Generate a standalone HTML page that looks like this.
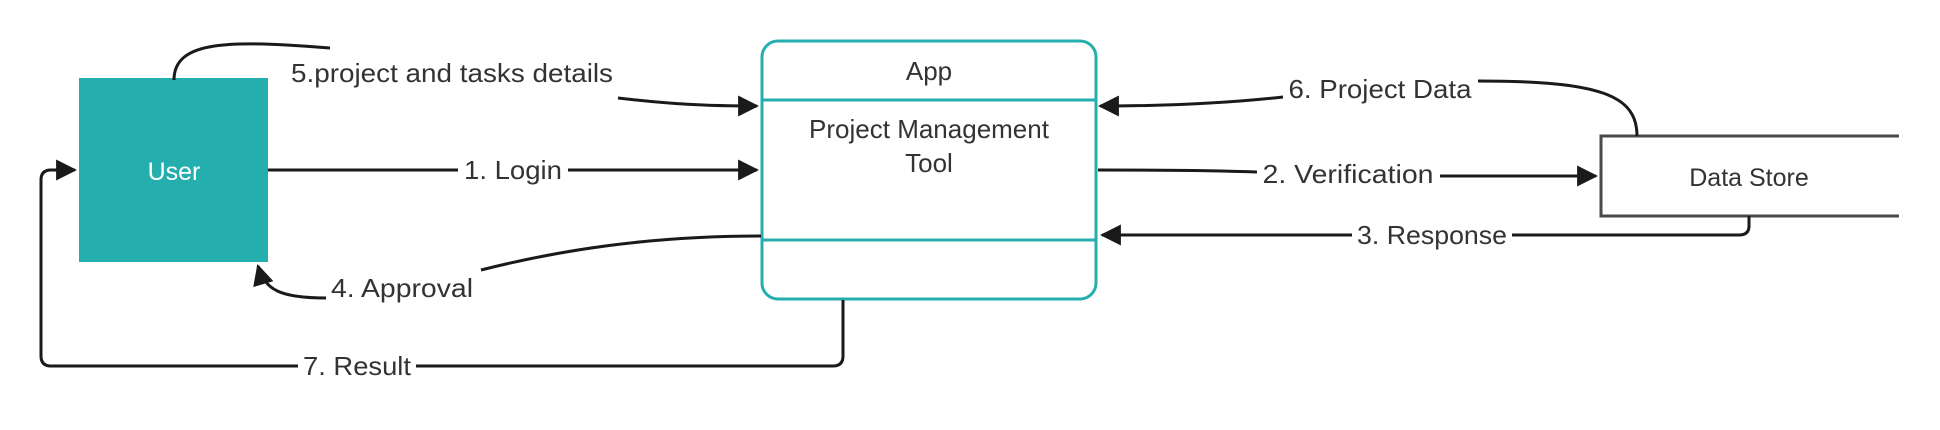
<!DOCTYPE html>
<html><head><style>
html,body{margin:0;padding:0;background:#fff;}
svg text{font-family:"Liberation Sans",sans-serif;}
</style></head><body>
<svg width="1940" height="425" viewBox="0 0 1940 425" xmlns="http://www.w3.org/2000/svg">
<defs>
<marker id="a" viewBox="0 0 10 10" refX="9" refY="5" markerWidth="7" markerHeight="7" orient="auto-start-reverse" markerUnits="strokeWidth">
<path d="M0,0 L10,5 L0,10 Z" fill="#1a1a1a"/></marker>
</defs>
<!-- User -->
<rect x="79" y="78" width="189" height="184" fill="#24afae"/>
<text x="174" y="180" font-size="25" fill="#fff" text-anchor="middle">User</text>
<!-- App -->
<rect x="762" y="41" width="334" height="258" rx="16" fill="#fff" stroke="#24afae" stroke-width="3"/>
<line x1="762" y1="100" x2="1096" y2="100" stroke="#24afae" stroke-width="3"/>
<line x1="762" y1="240" x2="1096" y2="240" stroke="#24afae" stroke-width="3"/>
<text x="929" y="80" font-size="26" fill="#333" text-anchor="middle">App</text>
<text x="929" y="138" font-size="26" fill="#333" text-anchor="middle">Project Management</text>
<text x="929" y="172" font-size="26" fill="#333" text-anchor="middle">Tool</text>
<!-- Data Store -->
<path d="M1899,136 H1601 V216 H1899" fill="none" stroke="#4a4a4a" stroke-width="3"/>
<text x="1749" y="186" font-size="25" fill="#333" text-anchor="middle">Data Store</text>
<g fill="none" stroke="#1a1a1a" stroke-width="3">
<path d="M174,80 C174,40 230,40 330,48"/>
<path d="M618,98 C670,104 705,106 757,106" marker-end="url(#a)"/>
<path d="M268,170 H458"/><path d="M568,170 H757" marker-end="url(#a)"/>
<path d="M761,236 C650,236 560,250 481,270"/>
<path d="M326,298 C280,298 265,290 258,266" marker-end="url(#a)"/>
<path d="M843,300 V356 Q843,366 833,366 H416"/>
<path d="M298,366 H51 Q41,366 41,356 V180 Q41,170 51,170 H75" marker-end="url(#a)"/>
<path d="M1637,136 C1637,95 1600,81 1478,81"/>
<path d="M1283,97 C1220,104 1160,106 1100,106" marker-end="url(#a)"/>
<path d="M1098,170 C1170,170 1230,171 1257,172"/>
<path d="M1440,176 H1596" marker-end="url(#a)"/>
<path d="M1749,216 V226 Q1749,235 1739,235 H1512"/>
<path d="M1352,235 H1102" marker-end="url(#a)"/>
</g>
<g font-size="26" fill="#333" text-anchor="middle">
<text x="452" y="82" textLength="322" lengthAdjust="spacingAndGlyphs">5.project and tasks details</text>
<text x="513" y="179" textLength="98" lengthAdjust="spacingAndGlyphs">1. Login</text>
<text x="402" y="297" textLength="142" lengthAdjust="spacingAndGlyphs">4. Approval</text>
<text x="357" y="375" textLength="108" lengthAdjust="spacingAndGlyphs">7. Result</text>
<text x="1380" y="98" textLength="183" lengthAdjust="spacingAndGlyphs">6. Project Data</text>
<text x="1348" y="183" textLength="171" lengthAdjust="spacingAndGlyphs">2. Verification</text>
<text x="1432" y="244" textLength="150" lengthAdjust="spacingAndGlyphs">3. Response</text>
</g>
</svg>
</body></html>
